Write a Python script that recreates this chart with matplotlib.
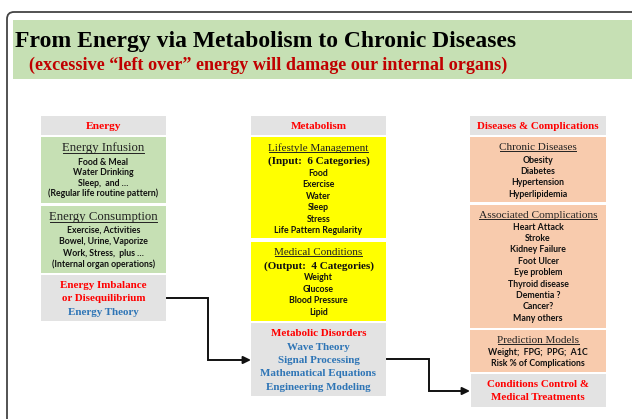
import matplotlib.pyplot as plt
from matplotlib.patches import Rectangle, FancyBboxPatch

SERIF = ["Liberation Serif", "DejaVu Serif"]
SANS = ["Lato", "DejaVu Sans"]

GRAY = "#e3e3e3"
GREEN = "#c6e0b4"
YELLOW = "#ffff00"
PEACH = "#f8cbad"
RED = "#ff0000"
BLUE = "#2e75b6"

title = "From Energy via Metabolism to Chronic Diseases"
subtitle = "(excessive \u201cleft over\u201d energy will damage our internal organs)"

# column headers
headers = ["Energy", "Metabolism", "Diseases & Complications"]

# energy column
infusion_title = "Energy Infusion"
infusion_items = ["Food & Meal", "Water Drinking", "Sleep,  and \u2026",
                  "(Regular life routine pattern)"]
consumption_title = "Energy Consumption"
consumption_items = ["Exercise, Activities", "Bowel, Urine, Vaporize",
                     "Work, Stress,  plus \u2026", "(Internal organ operations)"]
imbalance_red = ["Energy Imbalance", "or Disequilibrium"]
imbalance_blue = ["Energy Theory"]

# metabolism column
lifestyle_title = "Lifestyle Management"
lifestyle_sub = "(Input:  6 Categories)"
lifestyle_items = ["Food", "Exercise", "Water", "Sleep", "Stress",
                   "Life Pattern Regularity"]
medical_title = "Medical Conditions"
medical_sub = "(Output:  4 Categories)"
medical_items = ["Weight", "Glucose", "Blood Pressure", "Lipid"]
disorder_red = ["Metabolic Disorders"]
disorder_blue = ["Wave Theory", "Signal Processing", "Mathematical Equations",
                 "Engineering Modeling"]

# diseases column
chronic_title = "Chronic Diseases"
chronic_items = ["Obesity", "Diabetes", "Hypertension", "Hyperlipidemia"]
assoc_title = "Associated Complications"
assoc_items = ["Heart Attack", "Stroke", "Kidney Failure", "Foot Ulcer",
               "Eye problem", "Thyroid disease", "Dementia ?", "Cancer?",
               "Many others"]
predict_title = "Prediction Models"
predict_items = ["Weight;  FPG;  PPG;  A1C", "Risk % of Complications"]
control_red = ["Conditions Control &", "Medical Treatments"]

fig = plt.figure(figsize=(6.32, 4.19), dpi=100)
ax = fig.add_axes([0, 0, 1, 1])
ax.set_xlim(0, 632)
ax.set_ylim(419, 0)
ax.axis("off")

# outer frame and title band
ax.add_patch(FancyBboxPatch((7, 12), 660, 440,
                            boxstyle="round,pad=0,rounding_size=7",
                            fc="white", ec="#444444", lw=1.3))
ax.add_patch(Rectangle((13, 20), 640, 59, fc=GREEN, ec="none"))
ax.text(266, 47, title, family=SERIF, weight="bold", fontsize=17.0,
        ha="center", va="baseline", color="black")
ax.text(268, 65, subtitle, family=SERIF, weight="bold", fontsize=13.1,
        ha="center", va="center", color="#c00000")

underlined = []


def box(x0, x1, y0, y1, color):
    ax.add_patch(Rectangle((x0, y0), x1 - x0, y1 - y0, fc=color, ec="none"))


def heading(xc, y, s, size=8.0):
    t = ax.text(xc, y, s, family=SERIF, fontsize=size, ha="center",
                va="center", color="#222222")
    underlined.append(t)


def items(xc, ys, labels, size=6.3):
    for y, s in zip(ys, labels):
        ax.text(xc, y, s, family=SANS, weight="bold", fontsize=size,
                ha="center", va="center", color="#111111")


def serif_lines(xc, ys, labels, color, size=7.9):
    for y, s in zip(ys, labels):
        ax.text(xc, y, s, family=SERIF, weight="bold", fontsize=size,
                ha="center", va="center", color=color)


# ---- energy column
L0, L1 = 41, 166
lc = (L0 + L1) / 2
box(L0, L1, 116, 135, GRAY)
box(L0, L1, 137, 203, GREEN)
box(L0, L1, 206, 273, GREEN)
box(L0, L1, 275, 321, GRAY)
serif_lines(lc, [126], [headers[0]], RED, 8.2)
heading(lc, 148, infusion_title, 9.2)
items(lc, [162, 172.5, 183, 193.5], infusion_items)
heading(lc, 217, consumption_title, 9.2)
items(lc, [230, 241.5, 253, 264], consumption_items)
serif_lines(lc, [285, 298], imbalance_red, RED)
serif_lines(lc, [312], imbalance_blue, BLUE)

# ---- metabolism column
M0, M1 = 251, 386
mc = (M0 + M1) / 2
box(M0, M1, 116, 135, GRAY)
box(M0, M1, 137, 238, YELLOW)
box(M0, M1, 242, 321, YELLOW)
box(M0, M1, 323, 396, GRAY)
serif_lines(mc, [126], [headers[1]], RED, 8.0)
heading(mc, 148, lifestyle_title)
serif_lines(mc, [161], [lifestyle_sub], "#111111", 8.0)
items(mc, [173, 184.5, 196, 207.5, 219, 230], lifestyle_items)
heading(mc, 252.5, medical_title)
serif_lines(mc, [266], [medical_sub], "#111111", 8.0)
items(mc, [277.5, 289, 300.5, 312], medical_items)
serif_lines(mc, [333], disorder_red, RED)
serif_lines(mc, [347, 360, 373.5, 387], disorder_blue, BLUE)

# ---- diseases column
R0, R1 = 470, 606
rc = (R0 + R1) / 2
box(R0, R1, 116, 135, GRAY)
box(R0, R1, 137, 202, PEACH)
box(R0, R1, 205, 328, PEACH)
box(R0, R1, 330, 372, PEACH)
box(R0 + 1, R1, 374, 407, GRAY)
serif_lines(rc, [126], [headers[2]], RED, 7.9)
heading(rc, 147.5, chronic_title)
items(rc, [160, 171.5, 182.5, 194], chronic_items)
heading(rc, 215, assoc_title, 8.2)
items(rc, [227, 238, 249.5, 261, 272.5, 284, 295, 306.5, 318], assoc_items)
heading(rc, 340, predict_title)
items(rc, [352, 363.5], predict_items)
serif_lines(rc, [384, 397], control_red, RED)


# ---- connectors
def connector(x0, y0, xm, y1, x1):
    ax.plot([x0, xm, xm, x1 - 6], [y0, y0, y1, y1], color="#111111",
            lw=1.4, solid_joinstyle="miter")
    ax.annotate("", xy=(x1, y1), xytext=(x1 - 8, y1),
                arrowprops=dict(arrowstyle="-|>,head_length=0.45,head_width=0.22",
                                color="#111111", lw=1.4, shrinkA=0, shrinkB=0))


connector(L1 + 1, 298, 208, 360, M0)
connector(M1 + 1, 359, 429, 391, R0)

# underline the serif section headings
fig.canvas.draw()
renderer = fig.canvas.get_renderer()
inv = ax.transData.inverted()
for t in underlined:
    bb = t.get_window_extent(renderer)
    (xa, ya), (xb, yb) = inv.transform([[bb.x0, bb.y0], [bb.x1, bb.y1]])
    yl = ya - 1.0
    ax.plot([xa + 0.5, xb - 0.5], [yl, yl], color="#222222", lw=0.7)

fig.savefig("out.png", dpi=100)
